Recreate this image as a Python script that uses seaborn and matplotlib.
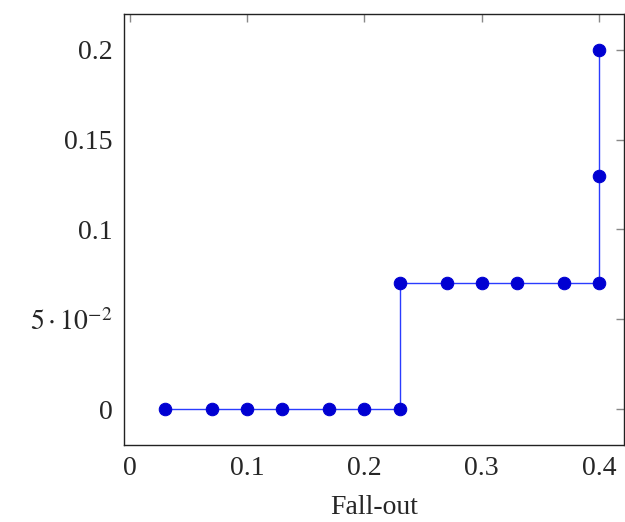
import matplotlib
matplotlib.use("Agg")
import matplotlib.pyplot as plt
import seaborn as sns
import pandas as pd

fallout = [0.03, 0.07, 0.10, 0.13, 0.17, 0.20, 0.23, 0.23, 0.27, 0.30, 0.33, 0.37, 0.40, 0.40, 0.40]
recall = [0, 0, 0, 0, 0, 0, 0, 0.07, 0.07, 0.07, 0.07, 0.07, 0.07, 0.13, 0.20]
xticks = [0, 0.1, 0.2, 0.3, 0.4]
xticklabels = ["0", "0.1", "0.2", "0.3", "0.4"]
yticks = [0, 0.05, 0.1, 0.15, 0.2]
yticklabels = ["0", r"$5\cdot10^{-2}$", "0.1", "0.15", "0.2"]

sns.set_style("white")
plt.rcParams['font.family'] = ['Liberation Serif', 'DejaVu Serif']
plt.rcParams['mathtext.fontset'] = 'stix'

df = pd.DataFrame({"x": fallout, "y": recall, "order": range(len(fallout))})

fig = plt.figure(figsize=(6.25, 5.22), dpi=100)
ax = fig.add_axes([0.1984, 0.1475, 0.8, 0.8257])
sns.lineplot(data=df, x="x", y="y", sort=False, estimator=None, ax=ax,
             color="#2a3cff", linewidth=1.0, marker="o", markersize=9,
             markerfacecolor="#0000d2", markeredgecolor="#0000d2")

ax.set_xlim(-0.005, 0.4213)
ax.set_ylim(-0.02, 0.22)
ax.set_xticks(xticks)
ax.set_xticklabels(xticklabels)
ax.set_yticks(yticks)
ax.set_yticklabels(yticklabels)
ax.tick_params(direction="in", length=6, width=1, color="#888888",
               top=True, right=True, labelsize=20, pad=8)
for s in ax.spines.values():
    s.set_color("#222222")
    s.set_linewidth(1.0)
ax.set_xlabel("Fall-out", fontsize=20, labelpad=10)
ax.set_ylabel("")

fig.savefig("out.png", dpi=100)
